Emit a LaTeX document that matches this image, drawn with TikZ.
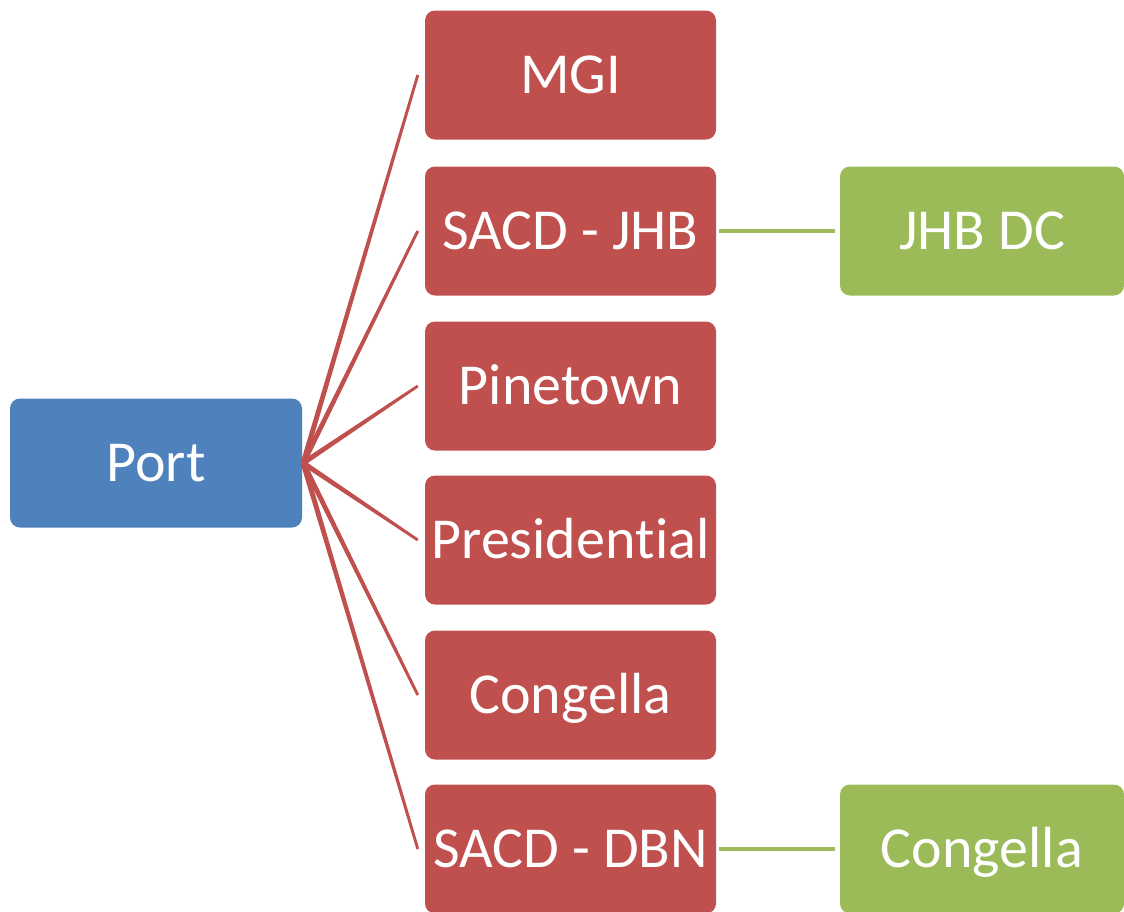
\documentclass[tikz,border=0pt]{standalone}
\usepackage{fontspec}
\setmainfont[Ligatures={NoCommon}]{Carlito}
\usetikzlibrary{calc}
\definecolor{boxred}{HTML}{C0504D}
\definecolor{boxblue}{HTML}{4F81BD}
\definecolor{boxgreen}{HTML}{9BBB59}
\tikzset{
  box/.style={rounded corners=10pt, inner sep=0pt, text=white,
    font=\fontsize{58}{60}\selectfont, text height=37pt, text depth=0pt},
  portbox/.style={box, fill=boxblue, minimum width=292pt, minimum height=129pt},
  redbox/.style={box, fill=boxred, minimum width=291pt, minimum height=129pt},
  greenbox/.style={box, fill=boxgreen, minimum width=284pt, minimum height=129pt},
  greenline/.style={draw=boxgreen, line width=4.5pt},
}
\newcommand{\taperline}[2]{%
  \fill[boxred] ($(#1)!2.6pt!90:(#2)$) -- ($(#2)!1.4pt!-90:(#1)$) --
    ($(#2)!1.4pt!90:(#1)$) -- ($(#1)!2.6pt!-90:(#2)$) -- cycle;}
\begin{document}
\begin{tikzpicture}[x=1pt,y=-1pt]
\useasboundingbox (0,0) rectangle (1124,911);
\node[portbox] (port) at (156,463) {Port};
\node[redbox] (mgi) at (570.5,75) {MGI};
\node[redbox] (jhb) at (570.5,231) {SACD - JHB};
\node[redbox] (pine) at (570.5,386) {Pinetown};
\node[redbox] (pres) at (570.5,540) {Presiden\kern0pt t\kern0pt ial};
\node[redbox] (cong) at (570.5,695) {Congella};
\node[redbox] (dbn) at (570.5,849) {SACD - DBN};
\node[greenbox] (jhbdc) at (982,231) {JHB DC};
\node[greenbox] (cong2) at (982,849) {Congella};
\coordinate (src) at ([xshift=1pt]port.east);
\foreach \n in {mgi,jhb,pine,pres,cong,dbn}{
  \coordinate (\n in) at ([xshift=-7pt]\n.west);
  \taperline{src}{\n in}
}
\draw[greenline] ([xshift=3pt]jhb.east) -- ([xshift=-5pt]jhbdc.west);
\draw[greenline] ([xshift=3pt]dbn.east) -- ([xshift=-5pt]cong2.west);
\end{tikzpicture}
\end{document}
